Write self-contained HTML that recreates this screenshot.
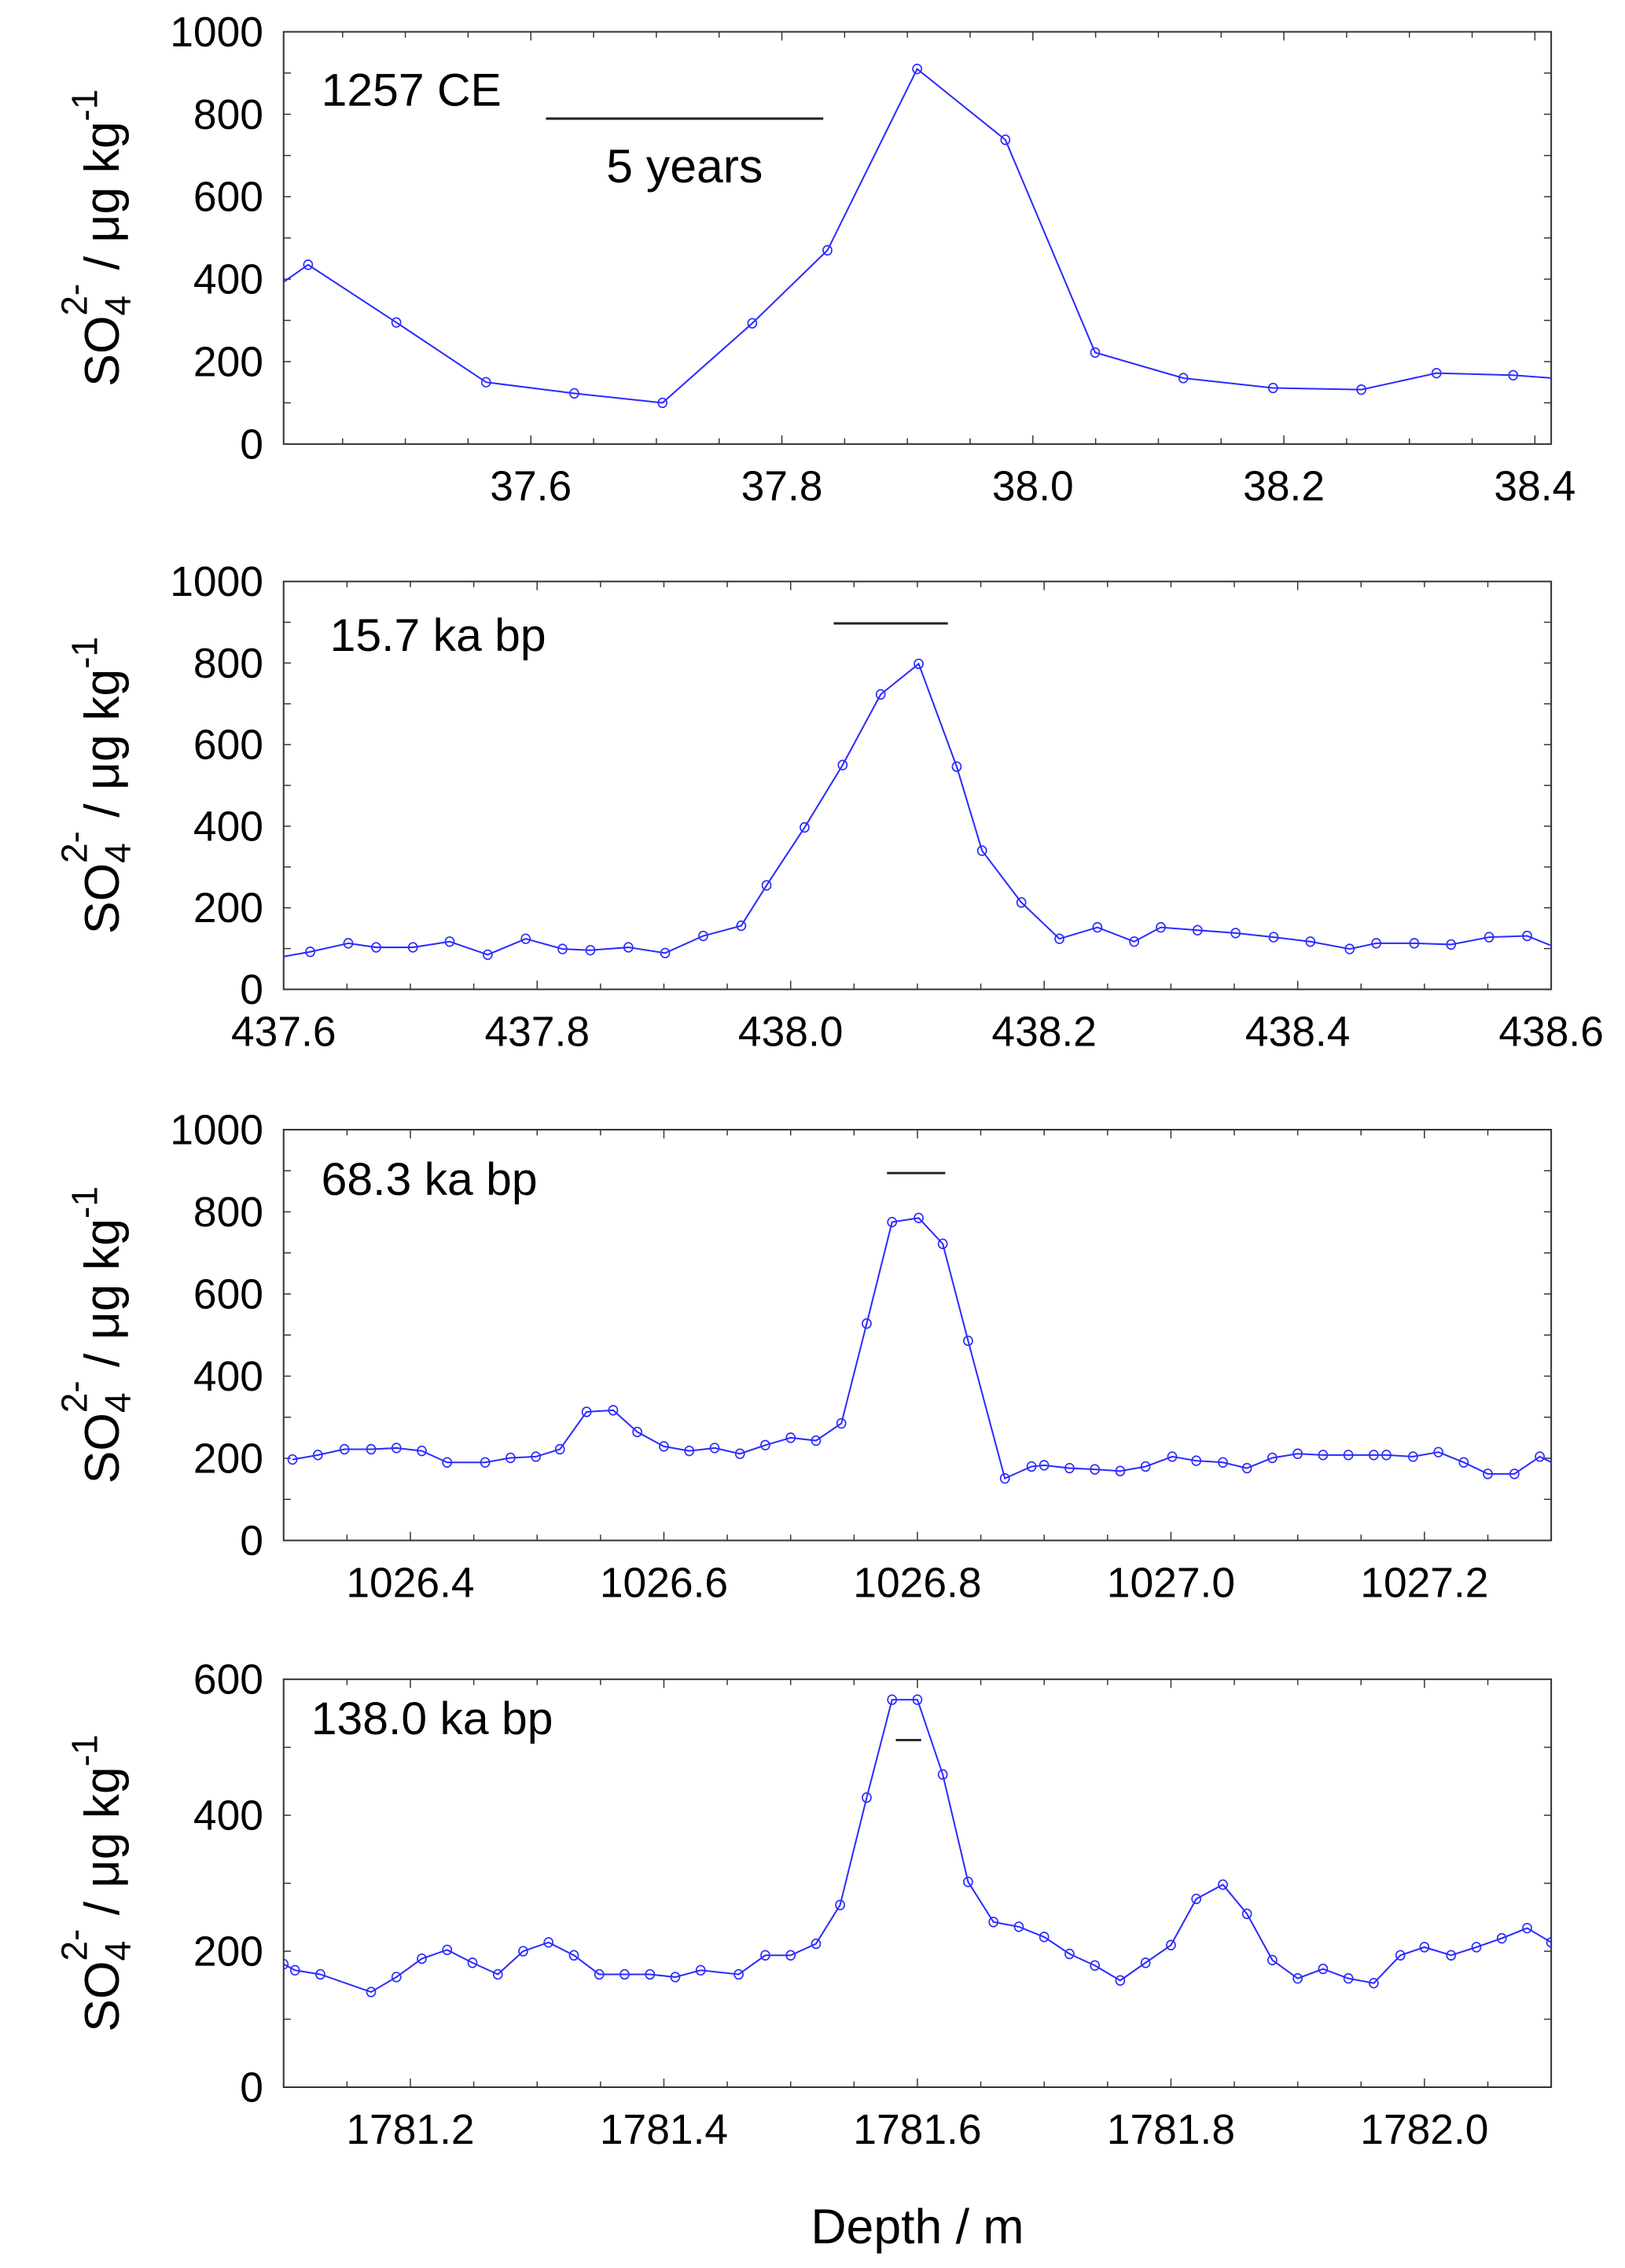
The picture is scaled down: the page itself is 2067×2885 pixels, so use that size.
<!DOCTYPE html>
<html><head><meta charset="utf-8"><style>
html,body{margin:0;padding:0;background:#fff;}
svg{display:block;}
text{font-family:"Liberation Sans",Arial,sans-serif;fill:#000;}
</style></head><body>
<svg id="fig" width="2067" height="2885" viewBox="0 0 1123 1568" preserveAspectRatio="none" xmlns="http://www.w3.org/2000/svg"></svg>
<script>
// Panel 1: 1257 CE
const p1Depth = [37.355,37.4225,37.4928,37.5643,37.6346,37.7049,37.7764,37.8363,37.9078,37.9781,38.0496,38.1199,38.1914,38.2617,38.3216,38.3827,38.45];
const p1Value = [290,435,295,150,123,100,293,470,910,738,222,160,136,132,172,167,152];
const p1XTicks = ["37.6","37.8","38.0","38.2","38.4"];
const p1YTicks = ["0","200","400","600","800","1000"];
// Panel 2: 15.7 ka bp
const p2Depth = [437.59,437.621,437.651,437.673,437.702,437.731,437.761,437.791,437.820,437.842,437.872,437.901,437.931,437.961,437.981,438.011,438.041,438.071,438.101,438.131,438.151,438.182,438.212,438.242,438.271,438.292,438.321,438.351,438.381,438.410,438.441,438.462,438.492,438.521,438.551,438.581,438.61];
const p2Value = [75,92,113,103,103,117,85,124,99,96,103,89,131,156,255,397,550,723,798,546,340,213,124,152,117,152,145,138,128,117,99,113,113,110,128,131,95];
const p2XTicks = ["437.6","437.8","438.0","438.2","438.4","438.6"];
const p2YTicks = ["0","200","400","600","800","1000"];
// Panel 3: 68.3 ka bp
const p3Depth = [1026.307,1026.327,1026.348,1026.369,1026.389,1026.409,1026.429,1026.459,1026.479,1026.499,1026.518,1026.539,1026.560,1026.579,1026.600,1026.620,1026.640,1026.660,1026.680,1026.700,1026.720,1026.740,1026.760,1026.780,1026.801,1026.820,1026.840,1026.869,1026.890,1026.900,1026.920,1026.940,1026.960,1026.980,1027.001,1027.020,1027.041,1027.060,1027.080,1027.100,1027.120,1027.140,1027.160,1027.170,1027.191,1027.211,1027.231,1027.250,1027.271,1027.291,1027.31];
const p3Value = [197,208,222,222,225,218,190,190,201,204,222,313,317,264,229,218,225,211,232,250,243,285,528,775,785,722,486,151,180,183,176,173,169,180,204,194,190,176,201,211,208,208,208,208,204,215,190,162,162,204,175];
const p3XTicks = ["1026.4","1026.6","1026.8","1027.0","1027.2"];
const p3YTicks = ["0","200","400","600","800","1000"];
// Panel 4: 138.0 ka bp
const p4Depth = [1781.10,1781.109,1781.129,1781.169,1781.189,1781.209,1781.229,1781.249,1781.269,1781.289,1781.309,1781.329,1781.349,1781.369,1781.389,1781.409,1781.429,1781.459,1781.480,1781.500,1781.520,1781.539,1781.560,1781.580,1781.600,1781.620,1781.640,1781.660,1781.680,1781.700,1781.720,1781.740,1781.760,1781.780,1781.800,1781.820,1781.841,1781.860,1781.880,1781.900,1781.920,1781.940,1781.960,1781.981,1782.000,1782.021,1782.041,1782.061,1782.081,1782.10];
const p4Value = [181,172,166,140,162,189,202,183,166,200,213,194,166,166,166,162,172,166,194,194,211,268,426,570,570,460,302,243,236,221,196,179,157,183,209,277,298,255,187,160,174,160,153,194,206,194,206,219,234,213];
const p4XTicks = ["1781.2","1781.4","1781.6","1781.8","1782.0"];
const p4YTicks = ["0","200","400","600"];

const NS = "http://www.w3.org/2000/svg";
const svg = document.getElementById("fig");
function mk(tag, attrs, parent) {
  const e = document.createElementNS(NS, tag);
  for (const k in attrs) e.setAttribute(k, attrs[k]);
  (parent || svg).appendChild(e);
  return e;
}

const L = 196, R = 1072;
const panels = [
  {id:"p1", top:22, bot:307, xmin:37.403, xmax:38.413, ymax:1000, depth:p1Depth, val:p1Value, xt:p1XTicks, yt:p1YTicks, label:"1257 CE", lx:222, ly:73, bar:[37.612,37.833], by:82, barText:"5 years"},
  {id:"p2", top:402, bot:684, xmin:437.6, xmax:438.6, ymax:1000, depth:p2Depth, val:p2Value, xt:p2XTicks, yt:p2YTicks, label:"15.7 ka bp", lx:228, ly:450, bar:[438.034,438.124], by:431},
  {id:"p3", top:781, bot:1065, xmin:1026.3, xmax:1027.3, ymax:1000, depth:p3Depth, val:p3Value, xt:p3XTicks, yt:p3YTicks, label:"68.3 ka bp", lx:222, ly:826, bar:[1026.776,1026.822], by:811},
  {id:"p4", top:1161, bot:1443, xmin:1781.1, xmax:1782.1, ymax:600, depth:p4Depth, val:p4Value, xt:p4XTicks, yt:p4YTicks, label:"138.0 ka bp", lx:215, ly:1199, bar:[1781.583,1781.603], by:1203}
];

panels.forEach(function(p) {
  const g = mk("g", {});
  
  
  const sx = function(d){ return L + (d - p.xmin) / (p.xmax - p.xmin) * (R - L); };
  const sy = function(v){ return p.bot - v / p.ymax * (p.bot - p.top); };
  const cp = mk("clipPath", {id:"clip-" + p.id}, g);
  mk("rect", {x:L, y:p.top, width:R-L, height:p.bot-p.top}, cp);
  const fr = mk("rect", {x:L, y:p.top, width:R-L, height:p.bot-p.top, fill:"none", stroke:"#333", "stroke-width":1.1}, g);
  
  
  const x0 = Math.ceil(p.xmin / 0.05 - 1e-6);
  for (let k = x0; k * 0.05 <= p.xmax + 1e-6; k++) {
    const X = sx(k * 0.05);
    const major = Math.abs((k * 0.05) / 0.2 - Math.round((k * 0.05) / 0.2)) < 1e-4;
    const len = major ? 6 : 4;
    mk("line", {x1:X, y1:p.bot, x2:X, y2:p.bot - len, stroke:"#333", "stroke-width":0.8}, g);
    mk("line", {x1:X, y1:p.top, x2:X, y2:p.top + len, stroke:"#333", "stroke-width":0.8}, g);
  }
  p.xt.forEach(function(t) {
    const tx = mk("text", {x:sx(parseFloat(t)), y:p.bot + 39, "font-size":29, "text-anchor":"middle"}, g);
    tx.textContent = t;
    
    
  });
  for (let v = 100; v < p.ymax; v += 100) {
    const Y = sy(v);
    mk("line", {x1:L, y1:Y, x2:L + 5, y2:Y, stroke:"#333", "stroke-width":0.8}, g);
    mk("line", {x1:R, y1:Y, x2:R - 5, y2:Y, stroke:"#333", "stroke-width":0.8}, g);
  }
  p.yt.forEach(function(t) {
    const ty = mk("text", {x:L - 14, y:sy(parseFloat(t)) + 10, "font-size":29, "text-anchor":"end"}, g);
    ty.textContent = t;
    
    
  });
  const cy = (p.top + p.bot) / 2;
  const yt = mk("text", {x:0, y:0, "font-size":34, "text-anchor":"middle", transform:"translate(82," + cy + ") rotate(-90)"}, g);
  
  
  yt.innerHTML = 'SO<tspan dy="8" font-size="25">4</tspan><tspan dx="-14" dy="-30" font-size="25">2-</tspan><tspan dy="22"> / μg kg</tspan><tspan dy="-15" font-size="25">-1</tspan>';
  const pts = p.depth.map(function(d, i){ return sx(d).toFixed(2) + "," + sy(p.val[i]).toFixed(2); }).join(" ");
  const sg = mk("g", {"clip-path":"url(#clip-" + p.id + ")"}, g);
  const pl = mk("polyline", {points:pts, fill:"none", stroke:"#2b2bff", "stroke-width":1.1}, sg);
  
  
  p.depth.forEach(function(d, i) {
    const c = mk("ellipse", {cx:sx(d), cy:sy(p.val[i]), rx:3, ry:3.2, fill:"none", stroke:"#2b2bff", "stroke-width":0.9}, sg);
    
    
  });
  const lb = mk("text", {x:p.lx, y:p.ly, "font-size":32}, g);
  lb.textContent = p.label;
  
  
  const bl = mk("line", {x1:sx(p.bar[0]), y1:p.by, x2:sx(p.bar[1]), y2:p.by, stroke:"#222", "stroke-width":1.6}, g);
  
  
  if (p.barText) {
    const bt = mk("text", {x:(sx(p.bar[0]) + sx(p.bar[1])) / 2, y:p.by + 44, "font-size":33, "text-anchor":"middle"}, g);
    bt.textContent = p.barText;
    
    
  }
});
const xt = mk("text", {x:634, y:1551, "font-size":34, "text-anchor":"middle"});
xt.textContent = "Depth / m";


</script>
</body></html>
